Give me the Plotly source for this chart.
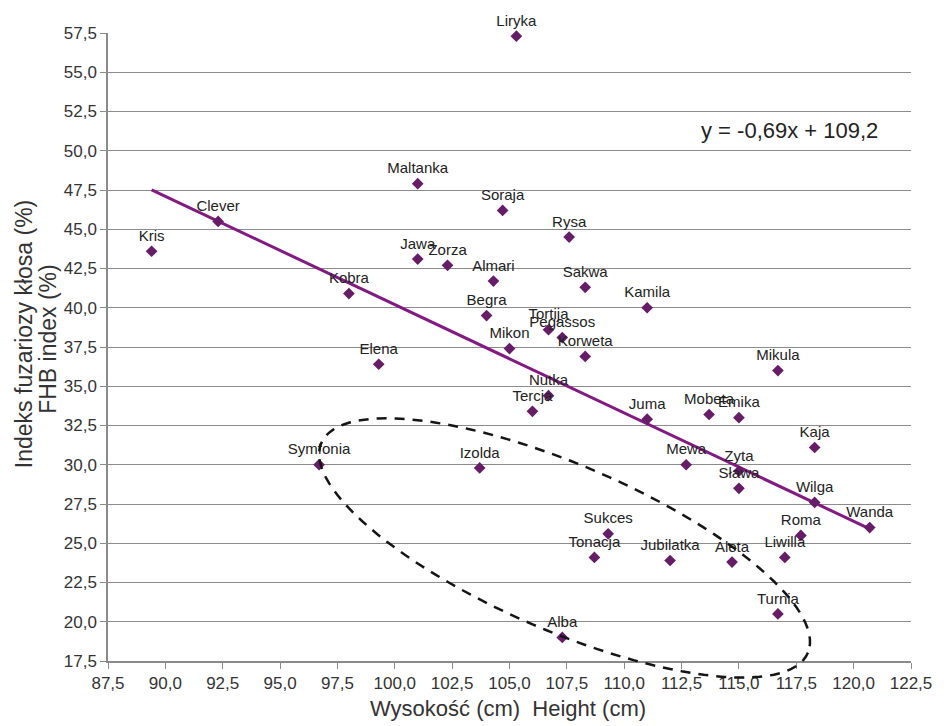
import numpy as np
import plotly.graph_objects as go

# Cultivars: plant height (cm) and FHB index (%)
cultivars = ["Liryka", "Maltanka", "Soraja", "Rysa", "Clever", "Kris", "Jawa", "Zorza",
             "Almari", "Sakwa", "Kobra", "Kamila", "Begra", "Tortija", "Pegassos", "Mikon",
             "Korweta", "Elena", "Mikula", "Nutka", "Tercja", "Juma", "Mobeta", "Emika",
             "Kaja", "Symfonia", "Izolda", "Mewa", "Zyta", "Sława", "Wilga", "Wanda",
             "Sukces", "Roma", "Tonacja", "Jubilatka", "Aleta", "Liwilla", "Turnia", "Alba"]
height_cm = [105.3, 101.0, 104.7, 107.6, 92.3, 89.4, 101.0, 102.3,
             104.3, 108.3, 98.0, 111.0, 104.0, 106.7, 107.3, 105.0,
             108.3, 99.3, 116.7, 106.7, 106.0, 111.0, 113.7, 115.0,
             118.3, 96.7, 103.7, 112.7, 115.0, 115.0, 118.3, 120.7,
             109.3, 117.7, 108.7, 112.0, 114.7, 117.0, 116.7, 107.3]
fhb_index = [57.3, 47.9, 46.2, 44.5, 45.5, 43.6, 43.1, 42.7,
             41.7, 41.3, 40.9, 40.0, 39.5, 38.6, 38.1, 37.4,
             36.9, 36.4, 36.0, 34.4, 33.4, 32.9, 33.2, 33.0,
             31.1, 30.0, 29.8, 30.0, 29.6, 28.5, 27.6, 26.0,
             25.6, 25.5, 24.1, 23.9, 23.8, 24.1, 20.5, 19.0]

# Linear trend y = a*x + b
trend_slope = -0.69
trend_intercept = 109.2

X_RANGE = [87.5, 122.5]
Y_RANGE = [17.5, 57.5]
W, H = 944, 726
M_L, M_R, M_T, M_B = 108, 22, 33, 65
PW, PH = W - M_L - M_R, H - M_T - M_B

FONT = "Liberation Sans, Arial, sans-serif"
PURPLE = "#821a82"
MARKER = "#661c66"

fig = go.Figure()

x_line = np.array([min(height_cm), max(height_cm)])
fig.add_trace(go.Scatter(
    x=x_line, y=trend_slope * x_line + trend_intercept,
    mode="lines", line=dict(color=PURPLE, width=3), hoverinfo="skip"))

fig.add_trace(go.Scatter(
    x=height_cm, y=fhb_index, mode="markers+text",
    text=cultivars, textposition="top center",
    textfont=dict(family=FONT, size=15, color="#222222"),
    marker=dict(symbol="diamond", size=9, color=MARKER),
    cliponaxis=False))


def to_paper(xd, yd):
    px = (xd - X_RANGE[0]) / (X_RANGE[1] - X_RANGE[0])
    py = (yd - Y_RANGE[0]) / (Y_RANGE[1] - Y_RANGE[0])
    return px, py


# Dashed ellipse around the short, low-FHB group (semi-axes in screen pixels)
ell_cx, ell_cy = to_paper(107.4, 24.7)
ell_a, ell_b, ell_tilt = 268.0, 83.0, np.deg2rad(23.0)
t = np.linspace(0, 2 * np.pi, 121)
ux = ell_a * np.cos(t)
uy = ell_b * np.sin(t)
sx = ux * np.cos(ell_tilt) - uy * np.sin(ell_tilt)
sy = ux * np.sin(ell_tilt) + uy * np.cos(ell_tilt)
ex = ell_cx + sx / PW
ey = ell_cy - sy / PH
path = "M " + " L ".join(f"{a:.5f},{b:.5f}" for a, b in zip(ex, ey)) + " Z"
fig.add_shape(type="path", path=path, xref="paper", yref="paper",
              line=dict(color="#151515", width=2.5, dash="10px,8px"), layer="above")

fig.add_annotation(x=117.2, y=51.26, xref="x", yref="y",
                   text="y = -0,69x + 109,2", showarrow=False,
                   font=dict(family=FONT, size=22, color="#222222"),
                   xanchor="center", yanchor="middle")

# Axis titles
fig.add_annotation(x=(513 - M_L) / PW, y=(H - M_B - 708) / PH, xref="paper", yref="paper",
                   text="Wysokość (cm)  Height (cm)", showarrow=False,
                   font=dict(family=FONT, size=22, color="#333333"),
                   xanchor="center", yanchor="middle")
fig.add_annotation(x=(23 - M_L) / PW, y=(H - M_B - 334) / PH, xref="paper", yref="paper",
                   text="Indeks fuzariozy kłosa (%)", showarrow=False, textangle=-90,
                   font=dict(family=FONT, size=23, color="#333333"),
                   xanchor="center", yanchor="middle")
fig.add_annotation(x=(47 - M_L) / PW, y=(H - M_B - 339) / PH, xref="paper", yref="paper",
                   text="FHB index (%)", showarrow=False, textangle=-90,
                   font=dict(family=FONT, size=23, color="#333333"),
                   xanchor="center", yanchor="middle")

fig.update_layout(
    width=W, height=H, margin=dict(l=M_L, r=M_R, t=M_T, b=M_B),
    plot_bgcolor="white", paper_bgcolor="white", showlegend=False,
    separators=", ", font=dict(family=FONT, color="#333333"))
fig.update_xaxes(range=X_RANGE, tick0=87.5, dtick=2.5, tickformat=".1f",
                 showgrid=False, zeroline=False, showline=True, linecolor="#8a8a8a",
                 linewidth=2, ticks="outside", ticklen=6, tickcolor="#8a8a8a",
                 tickfont=dict(family=FONT, size=17, color="#333333"))
fig.update_yaxes(range=Y_RANGE, tick0=17.5, dtick=2.5, tickformat=".1f",
                 showgrid=True, gridcolor="#8c8c8c", gridwidth=1, zeroline=False,
                 showline=True, linecolor="#8a8a8a", linewidth=1.5,
                 ticks="outside", ticklen=6, tickcolor="#8a8a8a",
                 tickfont=dict(family=FONT, size=17, color="#333333"))

fig.write_html("out.html")
